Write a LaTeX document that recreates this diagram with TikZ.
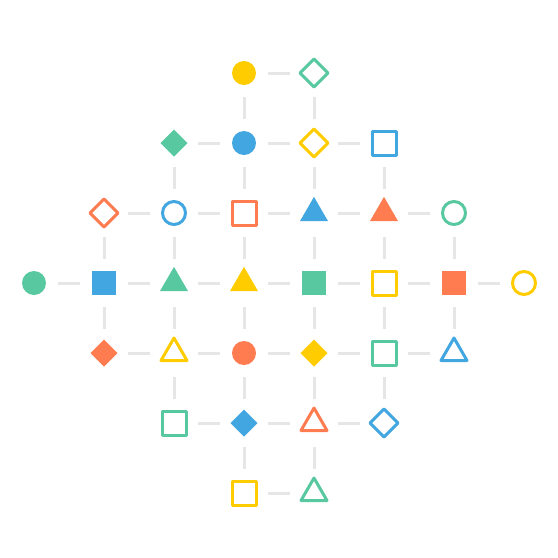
\documentclass[tikz,border=0pt]{standalone}
\usetikzlibrary{shapes.geometric}
\definecolor{cY}{HTML}{FFCC00}
\definecolor{cG}{HTML}{57C8A0}
\definecolor{cB}{HTML}{42A6E0}
\definecolor{cO}{HTML}{FF7B50}
\definecolor{cL}{HTML}{E6E6E6}
\tikzset{
  base/.style={inner sep=0pt, outer sep=0pt},
  fc/.style={base, circle, minimum size=24pt, fill=#1},
  oc/.style={base, circle, minimum size=23pt, draw=#1, line width=3pt},
  fs/.style={base, rectangle, minimum size=24pt, fill=#1},
  os/.style={base, rectangle, minimum size=24pt, draw=#1, line width=3pt, line join=round},
  fd/.style={base, diamond, minimum size=27pt, fill=#1},
  od/.style={base, diamond, minimum size=28pt, draw=#1, line width=3pt, line join=round},
  ft/.style={base, regular polygon, regular polygon sides=3, minimum size=32.3pt, fill=#1},
  ot/.style={base, regular polygon, regular polygon sides=3, minimum size=30pt, draw=#1, line width=3pt, line join=round},
  conn/.style={draw=cL, line width=3pt, shorten <=24pt, shorten >=24pt}
}
\begin{document}
\begin{tikzpicture}[x=1pt, y=-1pt]
\useasboundingbox (0,0) rectangle (558,558);
% row 1
\node[fc=cY] (d1) at (244,73) {};
\node[od=cG] (e1) at (314,73) {};
% row 2
\node[fd=cG] (c2) at (174,143) {};
\node[fc=cB] (d2) at (244,143) {};
\node[od=cY] (e2) at (314,143) {};
\node[os=cB] (f2) at (384,143) {};
% row 3
\node[od=cO] (b3) at (104,213) {};
\node[oc=cB] (c3) at (174,213) {};
\node[os=cO] (d3) at (244,213) {};
\node[ft=cB] (e3) at (314,213) {};
\node[ft=cO] (f3) at (384,213) {};
\node[oc=cG] (g3) at (454,213) {};
% row 4
\node[fc=cG] (a4) at (34,283) {};
\node[fs=cB] (b4) at (104,283) {};
\node[ft=cG] (c4) at (174,283) {};
\node[ft=cY] (d4) at (244,283) {};
\node[fs=cG] (e4) at (314,283) {};
\node[os=cY] (f4) at (384,283) {};
\node[fs=cO] (g4) at (454,283) {};
\node[oc=cY] (h4) at (524,283) {};
% row 5
\node[fd=cO] (b5) at (104,353) {};
\node[ot=cY] (c5) at (174,353) {};
\node[fc=cO] (d5) at (244,353) {};
\node[fd=cY] (e5) at (314,353) {};
\node[os=cG] (f5) at (384,353) {};
\node[ot=cB] (g5) at (454,353) {};
% row 6
\node[os=cG] (c6) at (174,423) {};
\node[fd=cB] (d6) at (244,423) {};
\node[ot=cO] (e6) at (314,423) {};
\node[od=cB] (f6) at (384,423) {};
% row 7
\node[os=cY] (d7) at (244,493) {};
\node[ot=cG] (e7) at (314,493) {};
% horizontal connectors
\foreach \p/\q in {d1/e1, c2/d2, d2/e2, e2/f2, b3/c3, c3/d3, d3/e3, e3/f3, f3/g3,
  a4/b4, b4/c4, c4/d4, d4/e4, e4/f4, f4/g4, g4/h4,
  b5/c5, c5/d5, d5/e5, e5/f5, f5/g5, c6/d6, d6/e6, e6/f6, d7/e7}
  \draw[conn] (\p.center) -- (\q.center);
% vertical connectors
\foreach \p/\q in {d1/d2, e1/e2, c2/c3, d2/d3, e2/e3, f2/f3,
  b3/b4, c3/c4, d3/d4, e3/e4, f3/f4, g3/g4,
  b4/b5, c4/c5, d4/d5, e4/e5, f4/f5, g4/g5,
  c5/c6, d5/d6, e5/e6, f5/f6, d6/d7, e6/e7}
  \draw[conn] (\p.center) -- (\q.center);
\end{tikzpicture}
\end{document}
